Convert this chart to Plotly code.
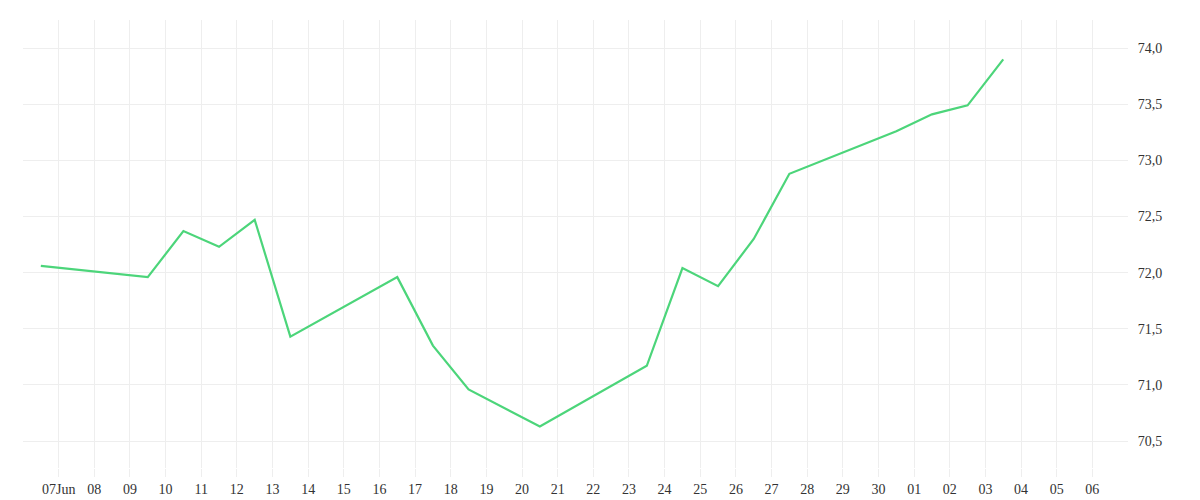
import plotly.graph_objects as go
import pandas as pd

dates = ["2024-06-06 12:00","2024-06-09 12:00","2024-06-10 12:00","2024-06-11 12:00","2024-06-12 12:00",
         "2024-06-13 12:00","2024-06-16 12:00","2024-06-17 12:00","2024-06-18 12:00","2024-06-20 12:00",
         "2024-06-23 12:00","2024-06-24 12:00","2024-06-25 12:00","2024-06-26 12:00","2024-06-27 12:00",
         "2024-06-30 12:00","2024-07-01 12:00","2024-07-02 12:00","2024-07-03 12:00"]
values = [72.06,71.96,72.37,72.23,72.47,71.43,71.96,71.35,70.96,70.63,71.17,72.04,71.88,72.30,72.88,73.26,73.41,73.49,73.90]

tick_dates = pd.date_range("2024-06-07", "2024-07-06", freq="D")
tick_labels = ["07Jun"] + [d.strftime("%d") for d in tick_dates[1:]]
y_ticks = [70.5, 71.0, 71.5, 72.0, 72.5, 73.0, 73.5, 74.0]

fig = go.Figure(go.Scatter(x=dates, y=values, mode="lines",
                           line=dict(color="#4cd57a", width=2.2)))
fig.update_layout(
    width=1200, height=500, plot_bgcolor="white", paper_bgcolor="white",
    margin=dict(l=15, r=80, t=12, b=40), showlegend=False, separators=", ",
    font=dict(family="Liberation Serif, DejaVu Serif, serif", size=14, color="#333"),
)
fig.update_xaxes(range=["2024-06-06", "2024-07-07"], tickvals=list(tick_dates), ticktext=tick_labels,
                 showgrid=True, gridcolor="#eeeeee", ticks="outside", ticklen=8, tickcolor="#eeeeee",
                 zeroline=False, showline=False)
fig.update_yaxes(range=[70.26, 74.25], side="right", tickvals=y_ticks, tickformat=".1f",
                 showgrid=True, gridcolor="#eeeeee", zeroline=False, ticks="outside", ticklen=6,
                 tickcolor="white")
fig.write_html("out.html")
